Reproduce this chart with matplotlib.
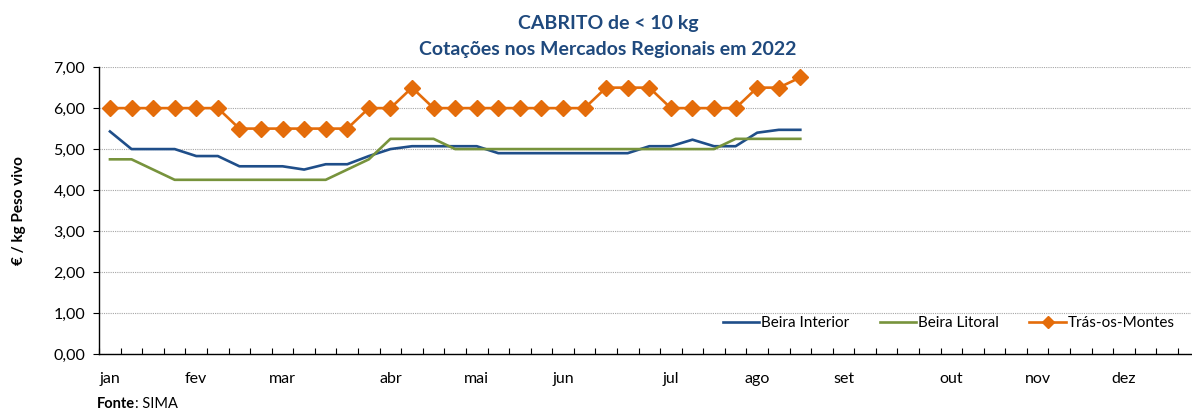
import numpy as np
import matplotlib
matplotlib.use("Agg")
import matplotlib.pyplot as plt
from matplotlib.ticker import FuncFormatter, MultipleLocator

plt.rcParams['font.family'] = ['Lato', 'DejaVu Sans']

# weekly quotations, week 1 .. week 33 of 2022 (EUR / kg live weight)
beira_interior = [5.43, 5.0, 5.0, 5.0, 4.83, 4.83, 4.58, 4.58, 4.58, 4.5, 4.63,
                  4.63, 4.83, 5.0, 5.07, 5.07, 5.07, 5.07, 4.9, 4.9, 4.9, 4.9,
                  4.9, 4.9, 4.9, 5.07, 5.07, 5.23, 5.07, 5.07, 5.4, 5.47, 5.47]
beira_litoral = [4.75, 4.75, 4.5, 4.25, 4.25, 4.25, 4.25, 4.25, 4.25, 4.25, 4.25,
                 4.5, 4.75, 5.25, 5.25, 5.25, 5.0, 5.0, 5.0, 5.0, 5.0, 5.0,
                 5.0, 5.0, 5.0, 5.0, 5.0, 5.0, 5.0, 5.25, 5.25, 5.25, 5.25]
tras_os_montes = [6.0, 6.0, 6.0, 6.0, 6.0, 6.0, 5.5, 5.5, 5.5, 5.5, 5.5,
                  5.5, 6.0, 6.0, 6.5, 6.0, 6.0, 6.0, 6.0, 6.0, 6.0, 6.0,
                  6.0, 6.5, 6.5, 6.5, 6.0, 6.0, 6.0, 6.0, 6.5, 6.5, 6.75]

# month label on the first week of each month
month_weeks = [0, 4, 8, 13, 17, 21, 26, 30, 34, 39, 43, 47]
month_names = ["jan", "fev", "mar", "abr", "mai", "jun",
               "jul", "ago", "set", "out", "nov", "dez"]

c_blue = "#1F4E89"
c_green = "#77933C"
c_orange = "#E46C0A"
c_title = "#1F497D"

fig = plt.figure(figsize=(11.92, 4.12), dpi=100)
ax = fig.add_axes([0.0832, 0.141, 0.9158, 0.696])

weeks = np.arange(len(tras_os_montes))
ax.plot(weeks, beira_interior, color=c_blue, lw=1.9, label="Beira Interior")
ax.plot(weeks, beira_litoral, color=c_green, lw=1.9, label="Beira Litoral")
ax.plot(weeks, tras_os_montes, color=c_orange, lw=1.9, marker="D", ms=8,
        label="Trás-os-Montes")

ax.set_ylim(0, 7)
ax.set_xlim(-0.5, 50.1)
ax.yaxis.set_major_locator(MultipleLocator(1))
ax.yaxis.set_major_formatter(FuncFormatter(lambda v, p: f"{v:.2f}".replace(".", ",")))
ax.grid(axis="y", linestyle=(0, (1, 1)), color="#A6A6A6", lw=0.8)
ax.set_axisbelow(True)

ax.set_xticks(month_weeks)
ax.set_xticklabels(month_names)
ax.set_xticks(np.arange(-0.5, 50, 1), minor=True)
ax.tick_params(axis="x", which="major", length=0, pad=13, labelsize=11.5)
ax.tick_params(axis="x", which="minor", length=4, direction="in", width=0.8)
ax.tick_params(axis="y", length=4, width=0.8, labelsize=11.5, pad=6)

for s in ["top", "right"]:
    ax.spines[s].set_visible(False)
ax.spines["left"].set_linewidth(1.0)
ax.spines["bottom"].set_linewidth(1.0)

ax.set_ylabel("€ / kg Peso vivo", fontsize=11, fontweight="bold", labelpad=20)

ax.legend(loc="center", bbox_to_anchor=(0.778, 0.108), ncol=3, frameon=False,
          fontsize=11, handlelength=2.4, handletextpad=0.1, columnspacing=2.0,
          markerscale=0.75)

fig.text(0.51, 0.942, "CABRITO de < 10 kg", ha="center", va="center",
         fontsize=14, fontweight="bold", color=c_title)
fig.text(0.51, 0.881, "Cotações nos Mercados Regionais em 2022", ha="center",
         va="center", fontsize=14, fontweight="bold", color=c_title)

t = fig.text(0.081, 0.02, "Fonte", fontsize=10.5, fontweight="bold", va="center")
fig.canvas.draw()
bb = t.get_window_extent().transformed(fig.transFigure.inverted())
fig.text(bb.x1, 0.02, ": SIMA", fontsize=10.5, va="center")

fig.savefig("out.png", dpi=100)
